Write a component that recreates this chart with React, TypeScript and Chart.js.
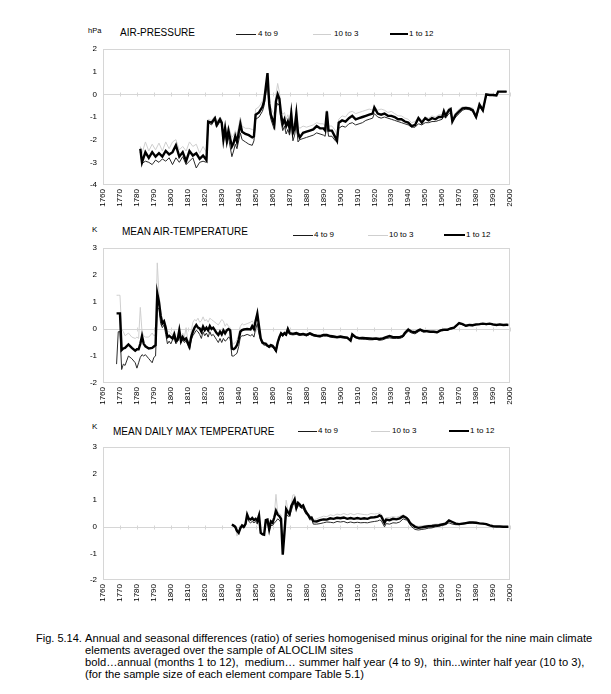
import React, { useEffect, useRef } from "react";
import { Chart, registerables } from "chart.js";

Chart.register(...registerables);

const FONT = '"Liberation Sans", Arial, Helvetica, sans-serif';

// ---------- AIR-PRESSURE (hPa) ----------
const apYears = [
  1782, 1783, 1785, 1787, 1789, 1791, 1793, 1795, 1797, 1799, 1801, 1803, 1805, 1807, 1809, 1811, 1813, 1815, 1817, 1819, 1821,
  1822, 1824, 1826, 1827, 1829, 1830, 1831, 1832, 1833, 1834, 1836, 1837, 1838, 1839, 1841, 1842, 1844, 1846, 1848, 1849,
  1850, 1852, 1854, 1855, 1857, 1858, 1859, 1861, 1862, 1863, 1864, 1865, 1866, 1867, 1868, 1869, 1870, 1871, 1872, 1873,
  1874, 1875, 1876, 1878, 1880, 1882, 1884, 1886, 1888, 1890, 1891, 1892, 1893, 1895, 1897, 1898, 1899, 1901, 1903, 1905,
  1907, 1909, 1911, 1913, 1915, 1917, 1919, 1920, 1922, 1924, 1926, 1928, 1930, 1932, 1934, 1936, 1938, 1940, 1942, 1944,
  1946, 1948, 1950, 1952, 1954, 1956, 1958, 1960, 1961, 1962, 1964, 1965, 1966, 1968, 1970, 1972, 1974, 1976, 1978, 1980,
  1982, 1984, 1986, 1988, 1990, 1992, 1993, 1996, 1998,
];
const apAnnual = [
  -2.4, -3.0, -2.55, -2.8, -2.55, -2.75, -2.6, -2.75, -2.5, -2.65, -2.55, -2.25, -2.75, -2.55, -2.95, -2.5, -2.7, -2.6, -2.85, -2.7, -2.9,
  -1.2, -1.25, -1.05, -1.35, -1.1, -1.25, -2.0, -1.5, -2.05, -1.6, -2.3, -2.15, -1.85, -2.1, -1.3, -1.65, -1.75, -1.8, -1.9, -1.85,
  -0.9, -0.8, -0.55, -0.3, 0.94, -0.4, -0.9, -1.35, -0.3, 0.0, -0.2, -0.9, -1.3, -1.1, -1.4, -1.2, -1.5, -0.85, -1.7, -1.5,
  -0.85, -1.7, -1.9, -1.7, -1.65, -1.6, -1.55, -1.4, -1.5, -1.5, -1.6, -0.75, -1.6, -1.6, -1.9, -2.05, -1.25, -1.15, -1.2, -1.05,
  -0.95, -1.1, -1.05, -1.0, -0.95, -0.9, -0.85, -0.58, -0.85, -0.9, -0.85, -0.95, -0.95, -1.0, -1.1, -1.1, -1.2, -1.25, -1.4, -1.35,
  -1.05, -1.25, -1.05, -1.15, -1.05, -1.1, -1.0, -1.0, -0.75, -0.95, -0.7, -0.65, -1.2, -0.9, -0.75, -0.62, -0.6, -0.62, -0.7, -1.0,
  -0.45, -0.7, 0.0, -0.03, -0.03, -0.05, 0.12, 0.12, 0.12,
];
const apSummer = [
  -2.55, -3.05, -2.95, -3.0, -3.1, -2.9, -3.0, -2.85, -2.95, -2.8, -3.1, -2.8, -3.0, -2.75, -3.1, -2.95, -2.8, -3.25, -3.0, -2.95, -3.0,
  -1.25, -1.35, -1.1, -1.45, -1.2, -1.3, -2.1, -1.6, -2.2, -1.9, -2.75, -2.5, -2.2, -2.4, -1.7, -2.0, -2.1, -2.2, -2.25, -2.05,
  -1.1, -1.0, -0.75, -0.5, 0.5, -0.7, -1.1, -1.55, -0.6, -0.4, -0.5, -1.2, -1.6, -1.4, -1.75, -1.55, -1.8, -1.2, -2.05, -1.8,
  -1.3, -2.1, -2.0, -1.95, -1.9, -1.85, -1.8, -1.7, -1.75, -1.8, -1.85, -1.2, -1.85, -1.85, -2.05, -2.1, -1.5, -1.4, -1.45, -1.3,
  -1.25, -1.35, -1.3, -1.25, -1.15, -1.1, -1.05, -0.85, -1.0, -1.05, -1.0, -1.05, -1.1, -1.15, -1.2, -1.25, -1.3, -1.35, -1.45, -1.45,
  -1.3, -1.35, -1.25, -1.25, -1.2, -1.2, -1.15, -1.1, -0.95, -1.05, -0.85, -0.8, -1.2, -1.0, -0.85, -0.7, -0.65, -0.68, -0.75, -1.05,
  -0.55, -0.75, -0.05, -0.05, -0.05, -0.06, 0.12, 0.12, 0.12,
];
const apWinter = [
  -2.3, -2.6, -2.1, -2.5, -2.2, -2.45, -2.15, -2.5, -2.1, -2.4, -2.1, -2.0, -2.45, -2.3, -2.5, -2.1, -2.3, -2.2, -2.6, -2.3, -2.55,
  -1.1, -1.15, -0.95, -1.2, -1.0, -1.1, -1.7, -1.3, -1.8, -1.4, -1.9, -1.8, -1.6, -1.8, -1.0, -1.4, -1.5, -1.5, -1.55, -1.6,
  -0.65, -0.55, -0.3, -0.05, 0.3, -0.1, -0.6, -0.9, 0.0, 0.48, 0.1, -0.6, -0.9, -0.8, -1.1, -0.9, -1.2, -0.6, -1.35, -1.25,
  -0.6, -1.4, -1.5, -1.4, -1.45, -1.4, -1.35, -1.25, -1.3, -1.3, -1.4, -0.7, -1.4, -1.4, -1.6, -1.8, -1.1, -0.95, -1.0, -0.8,
  -0.75, -0.85, -0.8, -0.75, -0.7, -0.65, -0.7, -0.55, -0.7, -0.65, -0.7, -0.8, -0.75, -0.85, -0.95, -0.95, -1.05, -1.1, -1.25, -1.2,
  -1.0, -1.15, -1.0, -1.05, -0.95, -1.0, -0.9, -0.9, -0.7, -0.85, -0.6, -0.6, -1.05, -0.8, -0.65, -0.55, -0.55, -0.58, -0.6, -0.9,
  -0.45, -0.6, 0.0, -0.02, -0.02, -0.03, 0.12, 0.12, 0.12,
];

// ---------- MEAN AIR-TEMPERATURE (K) ----------
const taYears = [
  1768, 1769, 1770, 1771, 1772, 1773, 1775, 1777, 1779, 1780, 1781, 1782, 1783, 1784, 1785, 1787, 1789, 1790, 1791, 1792,
  1793, 1794, 1795, 1796, 1797, 1798, 1799, 1800, 1801, 1802, 1803, 1804, 1805, 1806, 1807, 1808, 1809, 1810, 1811, 1812,
  1813, 1814, 1815, 1816, 1817, 1818, 1819, 1820, 1821, 1822, 1823, 1824, 1825, 1826, 1827, 1828, 1829, 1830, 1831, 1832,
  1833, 1834, 1835, 1836, 1837, 1838, 1839, 1840, 1841, 1842, 1843, 1845, 1847, 1848, 1849, 1850, 1851, 1852, 1853, 1854,
  1855, 1856, 1857, 1858, 1859, 1860, 1861, 1862, 1863, 1864, 1865, 1866, 1867, 1868, 1869, 1870, 1872, 1874, 1876, 1878,
  1880, 1882, 1884, 1886, 1888, 1890, 1892, 1894, 1896, 1898, 1900, 1902, 1904, 1906, 1907, 1909, 1911, 1913, 1915, 1917,
  1919, 1921, 1923, 1925, 1927, 1929, 1931, 1933, 1935, 1937, 1938, 1940, 1942, 1944, 1946, 1947, 1949, 1951, 1953, 1955,
  1957, 1959, 1961, 1963, 1965, 1967, 1969, 1970, 1972, 1974, 1976, 1978, 1980, 1982, 1984, 1986, 1988, 1990, 1992, 1994,
  1996, 1998, 1999,
];
const taAnnual = [
  0.58, 0.58, 0.58, -0.78, -0.72, -0.7, -0.57, -0.7, -0.8, -0.75, -0.75, -0.55, -0.26, -0.55, -0.64, -0.72, -0.7, -0.65, -0.6, 1.32,
  1.0, 0.5, 0.2, 0.28, 0.05, -0.3, -0.25, -0.3, -0.35, -0.2, -0.45, -0.4, -0.05, -0.45, -0.3, -0.4, -0.35, -0.5, -0.65, -0.3,
  -0.1, 0.05, 0.15, 0.05, 0.02, -0.1, 0.09, -0.04, 0.05, -0.05, 0.11, 0.0, 0.05, -0.05, -0.15, -0.22, -0.1, -0.2, -0.05, -0.16,
  -0.05, 0.0, -0.05, -0.73, -0.75, -0.7, -0.6, -0.4, -0.1, -0.04, -0.02, 0.0, -0.02, 0.11, 0.0, 0.3, 0.57, 0.1, -0.35, -0.5,
  -0.53, -0.55, -0.62, -0.65, -0.6, -0.62, -0.7, -0.8, -0.5, -0.3, -0.16, -0.22, -0.15, -0.2, 0.0, -0.15, -0.18, -0.15, -0.2, -0.18,
  -0.22, -0.16, -0.22, -0.25, -0.26, -0.22, -0.22, -0.26, -0.28, -0.3, -0.28, -0.3, -0.32, -0.43, -0.2, -0.3, -0.34, -0.33, -0.34, -0.35,
  -0.36, -0.35, -0.37, -0.35, -0.3, -0.26, -0.3, -0.3, -0.3, -0.25, -0.15, -0.02, -0.1, -0.12, -0.05, -0.02, -0.08, -0.08, -0.1, -0.1,
  -0.12, -0.05, -0.03, -0.03, 0.02, 0.05, 0.16, 0.22, 0.18, 0.12, 0.15, 0.14, 0.17, 0.18, 0.2, 0.18, 0.2, 0.17, 0.15, 0.17,
  0.15, 0.16, 0.15,
];
const taSummer = [
  -1.3, -0.1, -0.1, -1.5, -1.3, -1.35, -1.0, -1.1, -1.25, -1.45, -1.25, -1.05, -0.95, -1.0, -0.95, -1.1, -1.25, -1.05, -1.0, 0.8,
  0.75, 0.2, 0.05, 0.15, -0.2, -0.55, -0.45, -0.55, -0.4, -0.3, -0.55, -0.45, -0.2, -0.5, -0.4, -0.5, -0.45, -0.6, -0.75, -0.4,
  -0.25, -0.15, -0.05, -0.1, -0.2, -0.35, -0.1, -0.25, -0.15, -0.3, -0.1, -0.25, -0.2, -0.3, -0.4, -0.5, -0.35, -0.5, -0.35, -0.45,
  -0.4, -0.3, -0.35, -1.0, -1.0, -0.95, -0.9, -0.65, -0.3, -0.25, -0.25, -0.2, -0.25, -0.2, -0.3, 0.0, 0.2, -0.2, -0.4, -0.55,
  -0.6, -0.6, -0.65, -0.7, -0.65, -0.68, -0.75, -0.85, -0.55, -0.35, -0.22, -0.28, -0.2, -0.25, -0.05, -0.2, -0.22, -0.2, -0.24, -0.22,
  -0.26, -0.2, -0.26, -0.28, -0.3, -0.26, -0.26, -0.3, -0.32, -0.33, -0.32, -0.34, -0.35, -0.45, -0.25, -0.32, -0.36, -0.38, -0.38, -0.4,
  -0.4, -0.38, -0.42, -0.4, -0.35, -0.33, -0.35, -0.35, -0.35, -0.3, -0.2, -0.08, -0.15, -0.18, -0.1, -0.06, -0.12, -0.1, -0.12, -0.12,
  -0.14, -0.07, -0.05, -0.05, 0.0, 0.03, 0.14, 0.2, 0.16, 0.1, 0.13, 0.12, 0.15, 0.16, 0.18, 0.16, 0.18, 0.15, 0.13, 0.15,
  0.13, 0.14, 0.13,
];
const taWinter = [
  1.25, 1.25, 1.25, 0.0, -0.1, -0.25, -0.15, -0.3, -0.35, -0.3, -0.35, 0.8, -0.1, -0.25, -0.3, -0.3, -0.15, -0.25, -0.2, 2.45,
  1.3, 0.7, 0.3, 0.35, 0.15, -0.1, -0.1, -0.15, -0.25, -0.05, -0.35, -0.3, 0.05, -0.4, -0.15, -0.3, 0.05, -0.4, -0.55, -0.1,
  0.25, 0.35, 0.3, 0.4, 0.25, 0.3, 0.45, 0.3, 0.35, 0.25, 0.4, 0.35, 0.3, 0.25, 0.2, 0.15, 0.25, 0.35, 0.3, 0.1,
  0.2, 0.1, 0.05, -0.5, -0.55, -0.5, -0.4, -0.2, 0.1, 0.2, 0.15, 0.2, 0.25, 0.3, 0.2, 0.4, 0.6, 0.2, -0.3, -0.45,
  -0.5, -0.5, -0.55, -0.6, -0.55, -0.6, -0.65, -0.75, -0.45, -0.25, -0.12, -0.18, -0.1, -0.18, 0.05, -0.12, -0.15, -0.12, -0.18, -0.16,
  -0.2, -0.14, -0.2, -0.22, -0.24, -0.2, -0.2, -0.24, -0.26, -0.28, -0.26, -0.28, -0.3, -0.4, -0.18, -0.28, -0.32, -0.3, -0.32, -0.32,
  -0.34, -0.33, -0.35, -0.33, -0.28, -0.24, -0.28, -0.28, -0.28, -0.22, -0.12, 0.0, -0.08, -0.1, -0.03, 0.0, -0.06, -0.06, -0.08, -0.08,
  -0.1, -0.04, -0.02, -0.02, 0.03, 0.06, 0.17, 0.23, 0.19, 0.13, 0.16, 0.15, 0.18, 0.19, 0.21, 0.19, 0.21, 0.18, 0.16, 0.18,
  0.16, 0.17, 0.16,
];

// ---------- MEAN DAILY MAX TEMPERATURE (K) ----------
const txYears = [
  1836, 1837, 1838, 1839, 1840, 1841, 1842, 1843, 1844, 1845, 1846, 1847, 1848, 1849, 1850, 1851, 1852, 1853, 1854, 1855,
  1856, 1857, 1858, 1859, 1860, 1861, 1862, 1863, 1864, 1865, 1866, 1867, 1868, 1869, 1870, 1871, 1872, 1873, 1874, 1875,
  1876, 1877, 1878, 1879, 1880, 1881, 1882, 1883, 1884, 1886, 1888, 1890, 1892, 1894, 1896, 1898, 1900, 1902, 1904, 1906,
  1908, 1910, 1912, 1914, 1916, 1918, 1920, 1922, 1923, 1924, 1926, 1927, 1929, 1931, 1933, 1935, 1937, 1939, 1940, 1941,
  1942, 1943, 1944, 1946, 1948, 1950, 1952, 1954, 1956, 1958, 1960, 1962, 1964, 1966, 1968, 1970, 1972, 1974, 1976, 1978,
  1980, 1982, 1984, 1986, 1988, 1990, 1992, 1994, 1996, 1999,
];
const txAnnual = [
  0.09, 0.05, 0.0, -0.15, -0.23, -0.05, 0.05, 0.0, 0.1, 0.46, 0.3, 0.27, 0.33, 0.25, 0.3, 0.22, 0.43, -0.23, -0.28, -0.3,
  0.25, 0.27, -0.1, 0.2, 0.15, 0.35, 0.6, 0.46, 0.4, 0.3, -1.05, -0.23, 0.66, 0.55, 0.47, 0.78, 0.9, 1.03, 0.71, 0.9,
  0.84, 0.75, 0.8, 0.65, 0.53, 0.45, 0.34, 0.35, 0.21, 0.2, 0.25, 0.28, 0.27, 0.32, 0.3, 0.34, 0.32, 0.35, 0.3, 0.33,
  0.3, 0.33, 0.3, 0.32, 0.3, 0.35, 0.36, 0.38, 0.43, 0.4, 0.15, 0.27, 0.25, 0.3, 0.28, 0.32, 0.4, 0.33, 0.27, 0.15,
  0.09, 0.05, 0.0, -0.04, -0.02, 0.0, 0.02, 0.03, 0.05, 0.06, 0.09, 0.12, 0.24, 0.18, 0.12, 0.1, 0.12, 0.14, 0.16, 0.16,
  0.15, 0.13, 0.12, 0.1, 0.05, 0.02, 0.01, 0.01, 0.0, 0.0,
];
const txSummer = [
  0.05, 0.02, -0.05, -0.2, -0.25, -0.08, 0.0, -0.05, 0.05, 0.35, 0.2, 0.15, 0.2, 0.15, 0.2, 0.1, 0.3, -0.25, -0.3, -0.3,
  0.15, 0.15, -0.15, 0.05, 0.05, 0.15, 0.2, 0.3, 0.25, 0.15, -0.8, -0.2, 0.5, 0.4, 0.4, 0.6, 0.8, 0.95, 0.65, 0.8,
  0.75, 0.7, 0.7, 0.55, 0.45, 0.4, 0.25, 0.3, 0.1, 0.1, 0.12, 0.15, 0.18, 0.17, 0.15, 0.2, 0.18, 0.2, 0.15, 0.18,
  0.15, 0.17, 0.15, 0.16, 0.15, 0.18, 0.2, 0.22, 0.25, 0.24, 0.0, 0.12, 0.1, 0.15, 0.14, 0.18, 0.3, 0.25, 0.2, 0.08,
  0.0, -0.05, -0.1, -0.12, -0.1, -0.08, -0.05, -0.04, 0.0, 0.02, 0.05, 0.08, 0.15, 0.1, 0.08, 0.08, 0.1, 0.12, 0.14, 0.15,
  0.14, 0.12, 0.11, 0.09, 0.05, 0.02, 0.01, 0.01, 0.0, 0.0,
];
const txWinter = [
  0.1, 0.05, 0.05, -0.35, -0.2, -0.05, 0.1, 0.05, 0.15, 0.5, 0.35, 0.3, 0.4, 0.3, 0.35, 0.3, 0.45, -0.2, -0.25, -0.25,
  0.3, 0.3, 0.0, 0.25, 0.2, 0.45, 1.22, 0.55, 0.5, 0.45, -0.7, 0.0, 1.0, 0.65, 0.55, 0.85, 1.2, 1.2, 0.8, 0.95,
  0.9, 0.8, 0.85, 0.7, 0.6, 0.5, 0.4, 0.4, 0.25, 0.3, 0.35, 0.4, 0.38, 0.45, 0.42, 0.48, 0.45, 0.5, 0.45, 0.5,
  0.45, 0.5, 0.48, 0.46, 0.45, 0.5, 0.48, 0.5, 0.52, 0.48, 0.25, 0.35, 0.35, 0.38, 0.36, 0.4, 0.45, 0.38, 0.3, 0.2,
  0.15, 0.1, 0.05, 0.02, 0.04, 0.05, 0.06, 0.08, 0.1, 0.1, 0.12, 0.15, 0.22, 0.2, 0.15, 0.12, 0.14, 0.16, 0.18, 0.18,
  0.17, 0.15, 0.13, 0.11, 0.06, 0.03, 0.02, 0.01, 0.01, 0.0,
];

const legendLabels = ["4 to 9", "10 to 3", "1 to 12"];

const frame = {
  id: "frame",
  beforeDatasetsDraw(chart: any) {
    const { ctx, chartArea: a, scales } = chart;
    ctx.save();
    ctx.strokeStyle = "#d6d6d6";
    ctx.lineWidth = 1;
    ctx.strokeRect(a.left + 0.5, a.top + 0.5, a.right - a.left - 1, a.bottom - a.top - 1);
    const y0 = Math.round(scales.y.getPixelForValue(0)) + 0.5;
    ctx.beginPath();
    ctx.moveTo(a.left, y0);
    ctx.lineTo(a.right, y0);
    for (const t of scales.x.ticks) {
      const x = Math.round(scales.x.getPixelForValue(t.value)) + 0.5;
      ctx.moveTo(x, y0 - 2);
      ctx.lineTo(x, y0 + 2);
    }
    ctx.stroke();
    ctx.restore();
  },
};

type PanelProps = {
  years: number[];
  annual: number[];
  summer: number[];
  winter: number[];
  yMin: number;
  yMax: number;
  plotTop: number;
  plotBottom: number;
};

const pts = (xs: number[], ys: number[]) => xs.map((x, i) => ({ x, y: ys[i] }));

function Panel({ years, annual, summer, winter, yMin, yMax, plotTop, plotBottom }: PanelProps) {
  const ref = useRef<HTMLCanvasElement>(null);
  const left = 60;
  const width = 460;
  const top = plotTop - 10;
  const height = plotBottom - top + 34;
  useEffect(() => {
    if (!ref.current) return;
    const tickFont = { family: FONT, size: 8 };
    const chart = new Chart(ref.current, {
      type: "line",
      data: {
        datasets: [
          { label: "1 to 12", data: pts(years, annual), borderColor: "#000", borderWidth: 2.4, pointRadius: 0, tension: 0 },
          { label: "4 to 9", data: pts(years, summer), borderColor: "#2a2a2a", borderWidth: 1, pointRadius: 0, tension: 0 },
          { label: "10 to 3", data: pts(years, winter), borderColor: "#cfcfcf", borderWidth: 1, pointRadius: 0, tension: 0 },
        ],
      },
      options: {
        animation: false,
        responsive: false,
        events: [],
        layout: { padding: { top: 10, right: 10, left: 0, bottom: 0 } },
        plugins: { legend: { display: false }, tooltip: { enabled: false }, title: { display: false } },
        scales: {
          x: {
            type: "linear",
            min: 1760,
            max: 2000,
            grid: { display: false, drawTicks: false },
            border: { display: false },
            ticks: {
              stepSize: 10,
              autoSkip: false,
              minRotation: 90,
              maxRotation: 90,
              padding: 4,
              color: "#000",
              font: tickFont,
              callback: (v: any) => String(v),
            },
            afterFit: (s: any) => {
              s.height = 34;
              s.paddingLeft = 0;
              s.paddingRight = 0;
            },
          },
          y: {
            type: "linear",
            min: yMin,
            max: yMax,
            grid: { display: false, drawTicks: false },
            border: { display: false },
            ticks: {
              stepSize: 1,
              padding: 6,
              color: "#000",
              font: tickFont,
              callback: (v: any) => String(v),
            },
            afterFit: (s: any) => {
              s.width = 43;
              s.paddingTop = 0;
              s.paddingBottom = 0;
            },
          },
        },
      } as any,
      plugins: [frame],
    });
    return () => chart.destroy();
  }, []);
  return (
    <canvas
      ref={ref}
      width={width}
      height={height}
      style={{ position: "absolute", left, top, width, height }}
    />
  );
}

function Text({ x, y, size, children }: { x: number; y: number; size: number; children: any }) {
  return (
    <div
      style={{
        position: "absolute",
        left: x,
        top: y - size * 0.49,
        fontSize: size,
        lineHeight: `${size}px`,
        whiteSpace: "pre",
        fontFamily: FONT,
        color: "#000",
      }}
    >
      {children}
    </div>
  );
}

function Legend({ y, pos }: { y: number; pos: [number, number, number][] }) {
  const styles = [
    { h: 1, c: "#1a1a1a" },
    { h: 1, c: "#cfcfcf" },
    { h: 2.5, c: "#000" },
  ];
  return (
    <>
      {pos.map(([x0, x1, tx], i) => (
        <React.Fragment key={i}>
          <div
            style={{
              position: "absolute",
              left: x0,
              top: y - styles[i].h / 2,
              width: x1 - x0,
              height: styles[i].h,
              background: styles[i].c,
            }}
          />
          <Text x={tx} y={y} size={8}>
            {legendLabels[i]}
          </Text>
        </React.Fragment>
      ))}
    </>
  );
}

export default function App() {
  return (
    <div
      style={{
        position: "absolute",
        left: 0,
        top: 0,
        width: 611,
        height: 694,
        background: "#fff",
        overflow: "hidden",
        fontFamily: FONT,
      }}
    >
      <Text x={88} y={31} size={7.5}>hPa</Text>
      <Text x={120} y={33} size={10}>AIR-PRESSURE</Text>
      <Legend y={34} pos={[[236, 256, 258], [313, 331, 334], [390, 408, 409]]} />
      <Panel years={apYears} annual={apAnnual} summer={apSummer} winter={apWinter} yMin={-4} yMax={2} plotTop={49} plotBottom={185} />

      <Text x={92} y={230} size={8}>K</Text>
      <Text x={122} y={232} size={10}>MEAN AIR-TEMPERATURE</Text>
      <Legend y={235} pos={[[293, 313, 314], [368, 388, 389], [444, 465, 466]]} />
      <Panel years={taYears} annual={taAnnual} summer={taSummer} winter={taWinter} yMin={-2} yMax={3} plotTop={248} plotBottom={383} />

      <Text x={92} y={427} size={8}>K</Text>
      <Text x={113} y={432} size={10}>MEAN DAILY MAX TEMPERATURE</Text>
      <Legend y={431} pos={[[298, 317, 318], [371, 390, 392], [449, 469, 470]]} />
      <Panel years={txYears} annual={txAnnual} summer={txSummer} winter={txWinter} yMin={-2} yMax={3} plotTop={447} plotBottom={580} />

      <Text x={36} y={638} size={11}>Fig. 5.14.</Text>
      <Text x={85} y={638} size={11.2}>Annual and seasonal differences (ratio) of series homogenised minus original for the nine main climate</Text>
      <Text x={85} y={650} size={11.2}>elements averaged over the sample of ALOCLIM sites</Text>
      <Text x={85} y={662} size={11.2}>{"bold\u2026annual (months 1 to 12),  medium\u2026 summer half year (4 to 9),  thin...winter half year (10 to 3),"}</Text>
      <Text x={85} y={674} size={11.2}>(for the sample size of each element compare Table 5.1)</Text>
    </div>
  );
}
